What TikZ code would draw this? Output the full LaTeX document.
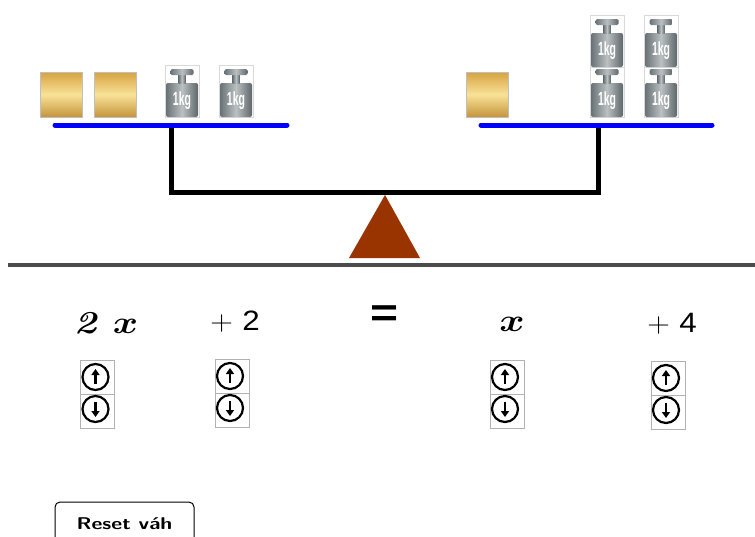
\documentclass[tikz,border=0pt]{standalone}
\usepackage{fix-cm}
\usepackage{fontspec}
\usepackage{bm}
\usetikzlibrary{arrows.meta}
\newfontfamily\arial{Liberation Sans}
\definecolor{fulcrum}{RGB}{153,51,0}
\definecolor{goldlight}{RGB}{248,226,152}
\definecolor{golddark}{RGB}{214,162,64}
\definecolor{steel}{RGB}{104,114,118}
\begin{document}
\begin{tikzpicture}[x = 1pt, y = -1pt,
	pan/.style = { draw = blue, line width = 5pt, line cap = round },
	beam/.style = { draw, line width = 5pt },
	metal/.style = { left color = steel, right color = steel!90!black, middle color = steel!45 },
	term/.style = { font = \fontsize{32}{34}\selectfont },
	const/.style = { font = \fontsize{28}{30}\selectfont },
	weight/.pic = {
		\draw [black!15, fill = white] (-17,0) rectangle (17,-52);
		\shade [metal, rounded corners = 2pt] (-16,0) rectangle (16,-34);
		\shade [metal] (-3.5,-34) rectangle (3.5,-43);
		\shade [metal, rounded corners = 1.5pt] (-11.5,-42) rectangle (11.5,-48);
		\node [text = white, font = \arial\bfseries\fontsize{19}{19}\selectfont] at (0,-16) { \scalebox{0.55}[1]{1kg} };
	},
	goldbox/.pic = {
		\shade [draw = black!25, shading angle = 45, top color = golddark, bottom color = golddark!92!black, middle color = goldlight] (-21,0) rectangle (21,-45);
	},
	updown/.pic = {
		\draw [black!30] (-17,-34) rectangle (17,0) (-17,0) rectangle (17,34);
		\draw [line width = 2.2pt] (-2,-17) circle (13) (-2,15) circle (13);
		\draw [line width = 2.6pt, -{Triangle[length = 6pt, width = 8pt]}] (-2,-10) -- (-2,-25);
		\draw [line width = 2.6pt, -{Triangle[length = 6pt, width = 8pt]}] (-2,8) -- (-2,23);
	}
]
	\useasboundingbox (0,0) rectangle (755,536);

	\coordinate (lpivot) at (171,125);
	\coordinate (rpivot) at (598,125);
	\coordinate (apex) at (385,192);

	\draw [beam] (lpivot) |- (apex) -| (rpivot);
	\fill [fulcrum] (385,195) -- (420,258) -- (349,258) -- cycle;
	\draw [pan] (55,125) -- (287,125);
	\draw [pan] (481,125) -- (712,125);
	\draw [black!70, line width = 3.5pt] (8,265) -- (755,265);

	\pic (lg1) at (61,117) { goldbox };
	\pic (lg2) at (115,117) { goldbox };
	\pic (lw1) at (182,117) { weight };
	\pic (lw2) at (236,117) { weight };
	\pic (rg1) at (487,117) { goldbox };
	\pic (rw1) at (607,117) { weight };
	\pic (rw2) at (607,67) { weight };
	\pic (rw3) at (661,117) { weight };
	\pic (rw4) at (661,67) { weight };

	\node [term] (lx) at (106,323) { \scalebox{1.2}[1]{\textbf{\textit{2}}\hspace{0.4em}$\bm{x}$} };
	\node [const] (lc) at (235,322) { \scalebox{1.12}[1]{$+$\hspace{0.3em}{\arial 2}} };
	\node [font = \arial\bfseries\fontsize{40}{40}\selectfont] (eq) at (385,316) { \scalebox{1.2}[1]{=} };
	\node [term] (rx) at (512,324) { \scalebox{1.2}[1]{$\bm{x}$} };
	\node [const] (rc) at (672,324) { \scalebox{1.12}[1]{$+$\hspace{0.3em}{\arial 4}} };

	\pic (lxbtn) at (97.5,394) { updown };
	\pic (lcbtn) at (232,393) { updown };
	\pic (rxbtn) at (507,394) { updown };
	\pic (rcbtn) at (668,395) { updown };

	\node [draw, rounded corners = 5pt, line width = 1pt, minimum width = 139pt, minimum height = 44pt, font = \sffamily\bfseries\fontsize{17}{19}\selectfont] (reset) at (124.5,524) { \scalebox{1.25}[1]{Reset váh} };
\end{tikzpicture}
\end{document}
